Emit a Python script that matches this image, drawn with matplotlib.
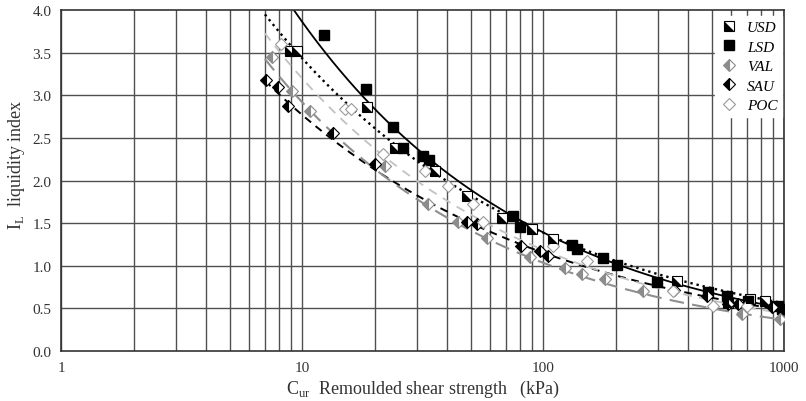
import numpy as np
import matplotlib
matplotlib.use("Agg")
import matplotlib.pyplot as plt
from matplotlib.lines import Line2D

plt.rcParams['font.family'] = ['Liberation Serif', 'DejaVu Serif']
plt.rcParams['mathtext.fontset'] = 'custom'
plt.rcParams['mathtext.rm'] = 'Liberation Serif'

# remoulded shear strength (kPa) and liquidity index per soil group
usd_c = [8.9, 9.5, 18.6, 24.3, 35.6, 48.4, 67.6, 90, 110, 360, 585, 720, 830]
usd_il = [3.52, 3.52, 2.86, 2.38, 2.11, 1.82, 1.56, 1.43, 1.31, 0.82, 0.57, 0.61, 0.59]

lsd_c = [12.3, 18.4, 23.9, 26.1, 31.8, 33.6, 75, 80, 132, 138, 177, 203, 297, 484, 578, 710, 940, 980]
lsd_il = [3.71, 3.07, 2.63, 2.38, 2.29, 2.24, 1.58, 1.45, 1.24, 1.20, 1.09, 1.01, 0.81, 0.69, 0.65, 0.59, 0.53, 0.49]

val_c = [7.5, 9.1, 10.8, 22.1, 33.3, 44.3, 58.5, 88, 123, 145, 180, 260, 670, 960]
val_il = [3.45, 3.05, 2.82, 2.17, 1.72, 1.51, 1.33, 1.10, 0.97, 0.90, 0.84, 0.70, 0.43, 0.38]

sau_c = [7.1, 7.9, 8.7, 13.4, 20.0, 48.4, 53, 81, 97, 105, 349, 480, 585, 640, 890]
sau_il = [3.18, 3.10, 2.87, 2.56, 2.19, 1.51, 1.49, 1.23, 1.17, 1.11, 0.72, 0.65, 0.55, 0.55, 0.52]

poc_c = [8.2, 15.1, 16.0, 21.7, 32.3, 40.3, 51, 56, 110, 152, 346, 505, 700]
poc_il = [3.60, 2.84, 2.84, 2.31, 2.11, 1.94, 1.72, 1.51, 1.23, 1.06, 0.70, 0.53, 0.53]

# power-law trend lines IL = a * Cur^b, with the Cur range each is drawn over
fits = {
    'LSD': dict(a=10.7, b=-0.443, c0=7.0, c1=980),
    'USD': dict(a=8.48, b=-0.393, c0=7.0, c1=980),
    'SAU': dict(a=6.64, b=-0.380, c0=7.0, c1=950),
    'VAL': dict(a=8.22, b=-0.450, c0=7.0, c1=960),
    'POC': dict(a=8.60, b=-0.430, c0=7.0, c1=960),
}
fit_style = {
    'LSD': dict(ls='-', color='black', lw=1.3),
    'USD': dict(ls=':', color='black', lw=1.7),
    'SAU': dict(ls='--', color='black', lw=1.4, dashes=(4, 3)),
    'VAL': dict(ls='--', color='#8f8f8f', lw=1.5, dashes=(7, 4)),
    'POC': dict(ls='--', color='#c2c2c2', lw=1.3, dashes=(5, 4)),
}

# half-filled square for USD
tri = [(-1, -1), (1, -1), (-1, 1), (-1, -1)]

fig, ax = plt.subplots(figsize=(8.06, 4.02), dpi=100)
fig.subplots_adjust(left=0.076, right=0.973, top=0.973, bottom=0.124)

ax.set_xscale('log')
ax.set_xlim(1, 1000)
ax.set_ylim(0, 4)

# grid
xs_grid = [m * 10 ** e for e in range(0, 3) for m in range(1, 10)] + [1000]
for g in xs_grid:
    ax.axvline(g, color='#505050', lw=1.0, zorder=1)
for g in np.arange(0.5, 4.0, 0.5):
    ax.axhline(g, color='#505050', lw=1.0, zorder=1)

for key, f in fits.items():
    xx = np.logspace(np.log10(f['c0']), np.log10(f['c1']), 200)
    ax.plot(xx, f['a'] * xx ** f['b'], zorder=2, **fit_style[key])

ms = 6.5
ax.plot(usd_c, usd_il, ls='none', marker='s', ms=ms, mfc='white', mec='black', mew=0.8, zorder=3)
ax.plot(usd_c, usd_il, ls='none', marker=tri, ms=ms, mfc='black', mec='black', mew=0, zorder=4)
ax.plot(lsd_c, lsd_il, ls='none', marker='s', ms=ms, color='black', zorder=3)
ax.plot(val_c, val_il, ls='none', marker='D', ms=ms, fillstyle='left', mfc='#8c8c8c',
        mfcalt='white', mec='#8c8c8c', mew=0.8, zorder=3)
ax.plot(sau_c, sau_il, ls='none', marker='D', ms=ms, fillstyle='left', mfc='black',
        mfcalt='white', mec='black', mew=0.8, zorder=3)
ax.plot(poc_c, poc_il, ls='none', marker='D', ms=ms, mfc='white', mec='#9a9a9a', mew=0.8, zorder=3)

# legend
usd_h = (Line2D([], [], ls='none', marker='s', ms=ms, mfc='white', mec='black', mew=0.8),
         Line2D([], [], ls='none', marker=tri, ms=ms, mfc='black', mec='black', mew=0))
handles = [usd_h,
           Line2D([], [], ls='none', marker='s', ms=ms, color='black'),
           Line2D([], [], ls='none', marker='D', ms=ms, fillstyle='left', mfc='#8c8c8c',
                  mfcalt='white', mec='#8c8c8c', mew=0.8),
           Line2D([], [], ls='none', marker='D', ms=ms, fillstyle='left', mfc='black',
                  mfcalt='white', mec='black', mew=0.8),
           Line2D([], [], ls='none', marker='D', ms=ms, mfc='white', mec='#9a9a9a', mew=0.8)]
leg = ax.legend(handles, ['USD', 'LSD', 'VAL', 'SAU', 'POC'], loc='upper right',
                bbox_to_anchor=(0.997, 0.982), borderaxespad=0,
                frameon=True, fancybox=False, framealpha=1, edgecolor='white',
                prop={'style': 'italic', 'size': 11}, handletextpad=0.6,
                labelspacing=0.38, borderpad=0.3, handlelength=1.2)
leg.set_zorder(5)

ax.set_xticks([1, 10, 100, 1000])
ax.set_xticklabels(['1', '10', '100', '1000'])
ax.set_yticks(np.arange(0, 4.01, 0.5))
ax.set_yticklabels(['%.1f' % v for v in np.arange(0, 4.01, 0.5)])
ax.minorticks_off()
ax.tick_params(length=0, labelsize=11, colors='#333333', pad=7)
for s in ax.spines.values():
    s.set_color('#333333')
    s.set_linewidth(1.2)

ax.set_xlabel(r'C$_{\mathrm{ur}}$  Remoulded shear strength   (kPa)', fontsize=13, color='#333333', labelpad=3)
ax.set_ylabel(r'I$_{\mathrm{L}}$  liquidity index', fontsize=13, color='#333333')
ax.yaxis.set_label_coords(-0.047, 0.55)

fig.savefig('out.png', dpi=100)
